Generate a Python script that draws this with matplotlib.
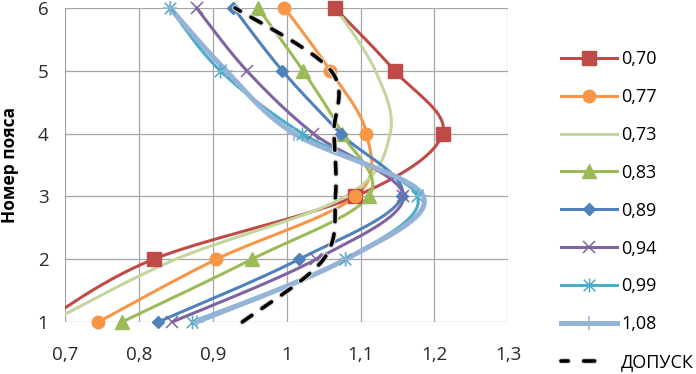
import numpy as np
import matplotlib
matplotlib.use("Agg")
import matplotlib.pyplot as plt
import matplotlib.patheffects as pe
from matplotlib.patches import Rectangle
from matplotlib.path import Path

plt.rcParams['font.family'] = ['Open Sans', 'DejaVu Sans']

# belt numbers (y axis)
belts = [1, 2, 3, 4, 5, 6]

labels = ['0,70', '0,77', '0,73', '0,83', '0,89', '0,94', '0,99', '1,08']
values = [
    [0.67, 0.82, 1.093, 1.211, 1.146, 1.065],   # 0,70
    [0.745, 0.905, 1.093, 1.108, 1.059, 0.997],  # 0,77
    [0.68, 0.85, 1.08, 1.14, 1.12, 1.066],      # 0,73
    [0.777, 0.953, 1.111, 1.075, 1.022, 0.961],  # 0,83
    [0.826, 1.017, 1.156, 1.073, 0.994, 0.928],  # 0,89
    [0.845, 1.04, 1.158, 1.036, 0.946, 0.878],   # 0,94
    [0.872, 1.079, 1.177, 1.021, 0.91, 0.842],   # 0,99
    [0.878, 1.08, 1.185, 1.01, 0.918, 0.842],    # 1,08
]
tolerance = [0.94, 1.05, 1.066, 1.064, 1.06, 0.93]
tol_label = 'ДОПУСК'

# excel "star" marker: X with a vertical bar
star = Path([(-1, -1), (1, 1), (-1, 1), (1, -1), (0, -1.2), (0, 1.2)],
            [Path.MOVETO, Path.LINETO] * 3)

colors = ['#BE4B48', '#F79646', '#C3D69B', '#9BBB59', '#4F81BD', '#8064A2', '#4BACC6', '#95B3D7']
markers = ['s', 'o', None, '^', 'D', 'x', star, '+']
msizes = [10, 9, 0, 10, 6.5, 9, 10, 10]
mwidths = [1, 1, 1, 1, 1, 1.1, 1.1, 1.1]
lwidths = [2.2, 2.2, 2.2, 2.2, 2.2, 2.2, 2.2, 3.6]


def smooth(xs, ys, n=40):
    # Excel-like smoothed line (Catmull-Rom bezier through the points)
    p = np.column_stack([xs, ys]).astype(float)
    out = []
    for i in range(len(p) - 1):
        p0 = p[i - 1] if i > 0 else p[i]
        p1, p2 = p[i], p[i + 1]
        p3 = p[i + 2] if i + 2 < len(p) else p[i + 1]
        c1 = p1 + (p2 - p0) / 6
        c2 = p2 - (p3 - p1) / 6
        t = np.linspace(0, 1, n)[:, None]
        seg = (1 - t) ** 3 * p1 + 3 * (1 - t) ** 2 * t * c1 + 3 * (1 - t) * t ** 2 * c2 + t ** 3 * p2
        out.append(seg if i == 0 else seg[1:])
    out = np.vstack(out)
    return out[:, 0], out[:, 1]


fig = plt.figure(figsize=(6.96, 3.74), dpi=100)
ax = fig.add_axes([0.0934, 0.139, 0.637, 0.840])

# clip only left/right so end markers at y=1 and y=6 are drawn whole
clip = Rectangle((0, -0.1), 1, 1.2, transform=ax.transAxes, visible=False)
ax.add_patch(clip)

handles = []
for vals, lab, c, m, ms, mw, lw in zip(values, labels, colors, markers, msizes, mwidths, lwidths):
    sx, sy = smooth(vals, belts)
    ln, = ax.plot(sx, sy, color=c, lw=lw, solid_capstyle='round', zorder=3)
    ln.set_clip_path(clip)
    if m is not None:
        mk, = ax.plot(vals, belts, ls='none', marker=m, ms=ms, color=c,
                      mec=c, mew=mw, zorder=4)
        mk.set_clip_path(clip)
    h, = ax.plot([], [], color=c, lw=lw, marker=m, ms=ms, mec=c, mew=mw)
    handles.append(h)

tol_fx = [pe.Stroke(linewidth=4.2, foreground='#d8d8d8'), pe.Normal()]
tx, ty = smooth(tolerance, belts)
tl, = ax.plot(tx, ty, color='black', lw=2.6, ls=(0, (3.2, 3.4)),
              dash_capstyle='round', zorder=5, path_effects=tol_fx)
tl.set_clip_path(clip)
handles.append(ax.plot([], [], color='black', lw=2.6, ls=(1, (3.0, 4.3, 3.0, 12)),
                       dash_capstyle='round', path_effects=tol_fx)[0])

ax.set_xlim(0.7, 1.3)
ax.set_ylim(1, 6)
xt = [0.7, 0.8, 0.9, 1.0, 1.1, 1.2, 1.3]
ax.set_xticks(xt)
ax.set_xticklabels([('%g' % v).replace('.', ',') for v in xt])
ax.set_yticks(belts)
ax.grid(True, color='#A6A6A6', lw=0.9)
ax.set_axisbelow(True)
for s in ax.spines.values():
    s.set_visible(False)
ax.tick_params(length=0, labelsize=13.5, colors='#2a2a2a')
ax.tick_params(axis='x', pad=17)
ax.tick_params(axis='y', pad=12)
ax.set_ylabel('Номер пояса', fontsize=12.5, fontweight='bold')
ax.yaxis.set_label_coords(-0.104, 0.5)

fig.legend(handles, labels + [tol_label], loc='upper left',
           bbox_to_anchor=(0.795, 0.885), frameon=False, fontsize=13,
           handlelength=3.15, handletextpad=0.2, labelspacing=1.1,
           borderaxespad=0)

fig.savefig('out.png', dpi=100)
